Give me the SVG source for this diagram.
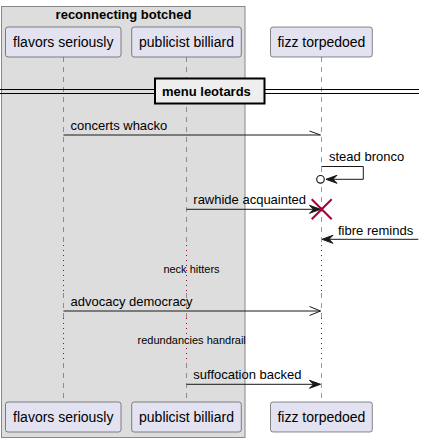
<svg xmlns="http://www.w3.org/2000/svg" width="425" height="442" viewBox="0 0 425 442">
<style>
.part{fill:#E2E2F0;stroke:#181818;stroke-width:0.5}
.ptxt{font-family:"Liberation Sans",Arial,sans-serif;font-size:14px;fill:#000}
.mtxt{font-family:"Liberation Sans",Arial,sans-serif;font-size:13px;fill:#000}
.dtxt{font-family:"Liberation Sans",Arial,sans-serif;font-size:11px;fill:#000}
.btxt{font-family:"Liberation Sans",Arial,sans-serif;font-size:13px;font-weight:bold;fill:#000}
.life{stroke:#555;stroke-width:0.6;stroke-dasharray:5,5;fill:none}
.delay{stroke:#A80036;stroke-width:1;stroke-dasharray:1,4;fill:none}
.msg{stroke:#181818;stroke-width:1;fill:none}
.head{fill:#181818;stroke:#181818;stroke-width:1}
</style>
<g id="box-reconnecting-botched">
<rect x="1.5" y="6.5" width="243.5" height="431" fill="#DDDDDD" stroke="#888" stroke-width="1"/>
<text class="btxt" x="123.5" y="19" text-anchor="middle">reconnecting botched</text>
</g>
<g id="lifelines">
<path class="life" d="M63.5,57 V245 M63.5,293 V318 M63.5,363 V402"/>
<path class="delay" d="M63.5,245 V293 M63.5,318 V363"/>
<path class="life" d="M186.5,57 V245 M186.5,293 V318 M186.5,363 V402"/>
<path class="delay" d="M186.5,245 V293 M186.5,318 V363"/>
<path class="life" d="M321.5,57 V245 M321.5,293 V318 M321.5,363 V402"/>
<path class="delay" d="M321.5,245 V293 M321.5,318 V363"/>
</g>
<g id="flavors-seriously">
<rect class="part" x="5.5" y="27" width="115.5" height="30" rx="2.5"/>
<text class="ptxt" x="63.3" y="47" text-anchor="middle">flavors seriously</text>
<rect class="part" x="5.5" y="402" width="115.5" height="30" rx="2.5"/>
<text class="ptxt" x="63.3" y="422" text-anchor="middle">flavors seriously</text>
</g>
<g id="publicist-billiard">
<rect class="part" x="131.7" y="27" width="109.6" height="30" rx="2.5"/>
<text class="ptxt" x="186.5" y="47" text-anchor="middle">publicist billiard</text>
<rect class="part" x="131.7" y="402" width="109.6" height="30" rx="2.5"/>
<text class="ptxt" x="186.5" y="422" text-anchor="middle">publicist billiard</text>
</g>
<g id="fizz-torpedoed">
<rect class="part" x="270.5" y="27" width="101.8" height="30" rx="2.5"/>
<text class="ptxt" x="321.4" y="47" text-anchor="middle">fizz torpedoed</text>
<rect class="part" x="270.5" y="402" width="101.8" height="30" rx="2.5"/>
<text class="ptxt" x="321.4" y="422" text-anchor="middle">fizz torpedoed</text>
</g>
<g id="divider-menu-leotards">
<line x1="0" y1="89.5" x2="419" y2="89.5" stroke="#000" stroke-width="1"/>
<line x1="0" y1="93.5" x2="419" y2="93.5" stroke="#000" stroke-width="1"/>
<rect x="155" y="78.5" width="109.5" height="25" fill="#EEEEEE" stroke="#000" stroke-width="2"/>
<text class="btxt" x="162" y="96">menu leotards</text>
</g>
<g id="connectors">
<line class="msg" x1="63.5" y1="135" x2="320.5" y2="135"/>
<line class="msg" x1="309.5" y1="131" x2="320.5" y2="135"/>
<text class="mtxt" x="70.5" y="130">concerts whacko</text>

<path class="msg" d="M321.5,166.5 H363.3 V179.3 H328"/>
<polygon class="head" points="326,179.3 337,175.3 333,179.3 337,183.3"/>
<circle cx="320.5" cy="179.3" r="3.8" fill="#fff" stroke="#181818" stroke-width="1.2"/>
<text class="mtxt" x="329" y="161">stead bronco</text>

<line class="msg" x1="186.5" y1="209.3" x2="318" y2="209.3"/>
<polygon class="head" points="320.5,209.3 309.5,205.3 313.5,209.3 309.5,213.3"/>
<path d="M311.7,199.3 L331.7,219.3 M331.7,199.3 L311.7,219.3" stroke="#A80036" stroke-width="2" fill="none"/>
<text class="mtxt" x="193.3" y="204">rawhide acquainted</text>

<line class="msg" x1="418.3" y1="239.3" x2="325" y2="239.3"/>
<polygon class="head" points="322,239.3 333,235.3 329,239.3 333,243.3"/>
<text class="mtxt" x="338" y="234.5">fibre reminds</text>

<text class="dtxt" x="191.5" y="272.7" text-anchor="middle">neck hitters</text>

<line class="msg" x1="63.5" y1="311" x2="320.5" y2="311"/>
<path class="msg" d="M309.5,306.5 L320.5,311 L309.5,315.5"/>
<text class="mtxt" x="70.5" y="306">advocacy democracy</text>

<text class="dtxt" x="191.7" y="344.3" text-anchor="middle">redundancies handrail</text>

<line class="msg" x1="186.5" y1="384.3" x2="318" y2="384.3"/>
<polygon class="head" points="320.5,384.3 309.5,380.3 313.5,384.3 309.5,388.3"/>
<text class="mtxt" x="193.3" y="378.5">suffocation backed</text>
</g>
</svg>
